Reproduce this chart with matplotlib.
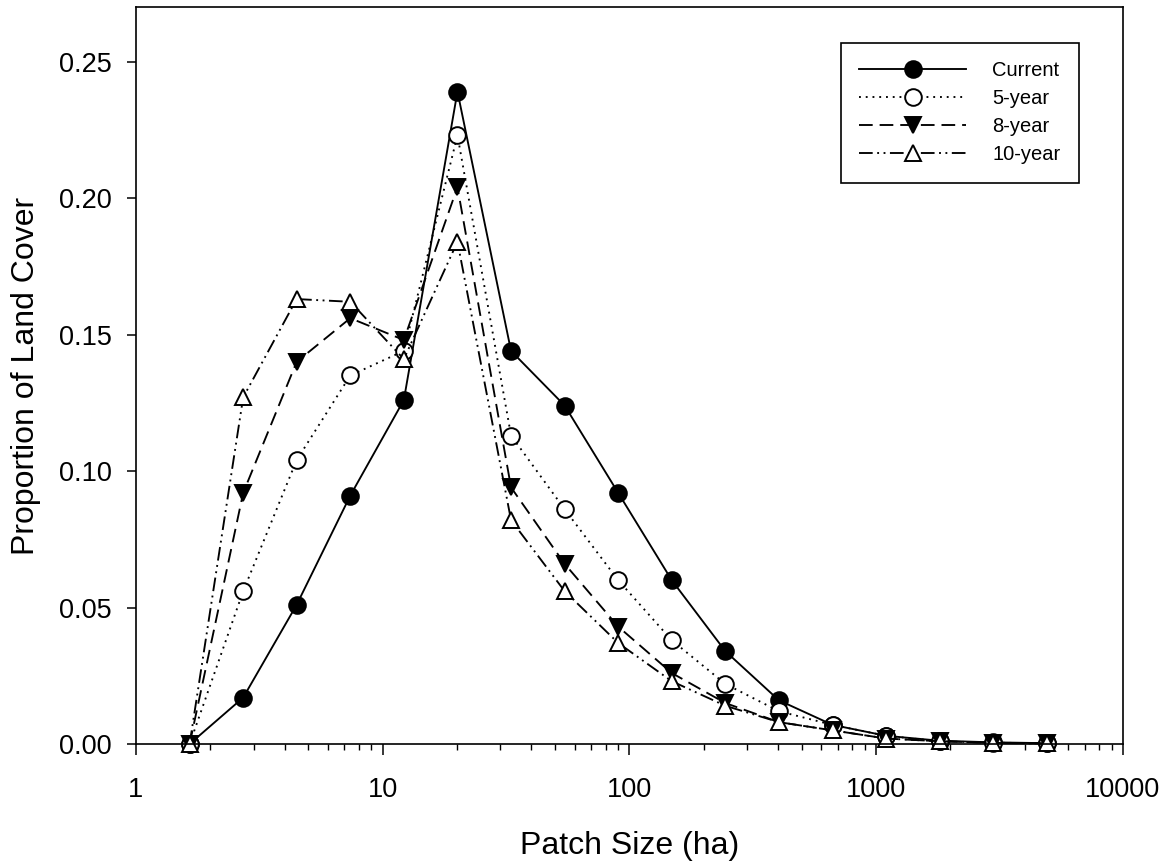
import matplotlib.pyplot as plt
from matplotlib.ticker import FixedLocator, LogLocator, NullFormatter

plt.rcParams["font.family"] = ["Liberation Sans", "DejaVu Sans"]

# patch size class midpoints (ha)
patch_size = [1.65, 2.72, 4.48, 7.39, 12.18, 20.09, 33.12, 54.6, 90.02,
              148.4, 244.7, 403.4, 665.1, 1096.6, 1808.0, 2981.0, 4914.8]

current = [0.000, 0.017, 0.051, 0.091, 0.126, 0.239, 0.144, 0.124, 0.092,
           0.060, 0.034, 0.016, 0.007, 0.003, 0.0012, 0.0006, 0.0003]
year5 = [0.000, 0.056, 0.104, 0.135, 0.144, 0.223, 0.113, 0.086, 0.060,
         0.038, 0.022, 0.012, 0.007, 0.003, 0.001, 0.0005, 0.0002]
year8 = [0.000, 0.092, 0.140, 0.156, 0.148, 0.204, 0.094, 0.066, 0.043,
         0.026, 0.015, 0.008, 0.005, 0.002, 0.001, 0.0004, 0.0002]
year10 = [0.000, 0.127, 0.163, 0.162, 0.141, 0.184, 0.082, 0.056, 0.037,
          0.023, 0.014, 0.008, 0.005, 0.002, 0.001, 0.0004, 0.0002]

series = [
    ("Current", current, "-", "o", "black"),
    ("5-year", year5, (0, (1, 2.6)), "o", "white"),
    ("8-year", year8, (0, (7.3, 3.7)), "v", "black"),
    ("10-year", year10, (0, (7.3, 2.4, 1, 2.4, 1, 2.4)), "^", "white"),
]

fig = plt.figure(figsize=(11.7, 8.63), dpi=100)
ax = fig.add_axes([0.1162, 0.1379, 0.9598 - 0.1162, 0.9919 - 0.1379])

for name, values, ls, marker, face in series:
    ax.plot(patch_size, values, linestyle=ls, color="black", linewidth=1.35,
            marker=marker, markersize=12, markerfacecolor=face,
            markeredgecolor="black", markeredgewidth=1.4, label=name,
            clip_on=False)

ax.set_xscale("log")
ax.set_xlim(1, 10000)
ax.set_ylim(0, 0.27)

ax.xaxis.set_major_locator(FixedLocator([1, 10, 100, 1000, 10000]))
ax.set_xticklabels(["1", "10", "100", "1000", "10000"])
ax.xaxis.set_minor_locator(LogLocator(base=10, subs=range(2, 10)))
ax.xaxis.set_minor_formatter(NullFormatter())
ax.set_yticks([0.0, 0.05, 0.10, 0.15, 0.20, 0.25])
ax.set_yticklabels(["0.00", "0.05", "0.10", "0.15", "0.20", "0.25"])

ax.tick_params(axis="x", which="major", direction="out", length=8, width=1.1,
               pad=16, labelsize=19.5)
ax.tick_params(axis="x", which="minor", direction="out", length=4.5, width=1.0)
ax.tick_params(axis="y", which="major", direction="out", length=6.7, width=1.1,
               pad=10.5, labelsize=19.5)
for spine in ax.spines.values():
    spine.set_linewidth(1.2)

ax.set_xlabel("Patch Size (ha)", fontsize=23, labelpad=20)
ax.set_ylabel("Proportion of Land Cover", fontsize=23, labelpad=13)

leg = ax.legend(loc="upper right", bbox_to_anchor=(0.955, 0.951),
                fontsize=14.5, handlelength=5.3, handletextpad=1.3,
                labelspacing=0.45, borderpad=0.9, fancybox=False,
                framealpha=1, edgecolor="black", borderaxespad=0)
leg.get_frame().set_linewidth(1.2)
for h in leg.legend_handles:
    h.set_markersize(12)

fig.savefig("out.png", dpi=100)
